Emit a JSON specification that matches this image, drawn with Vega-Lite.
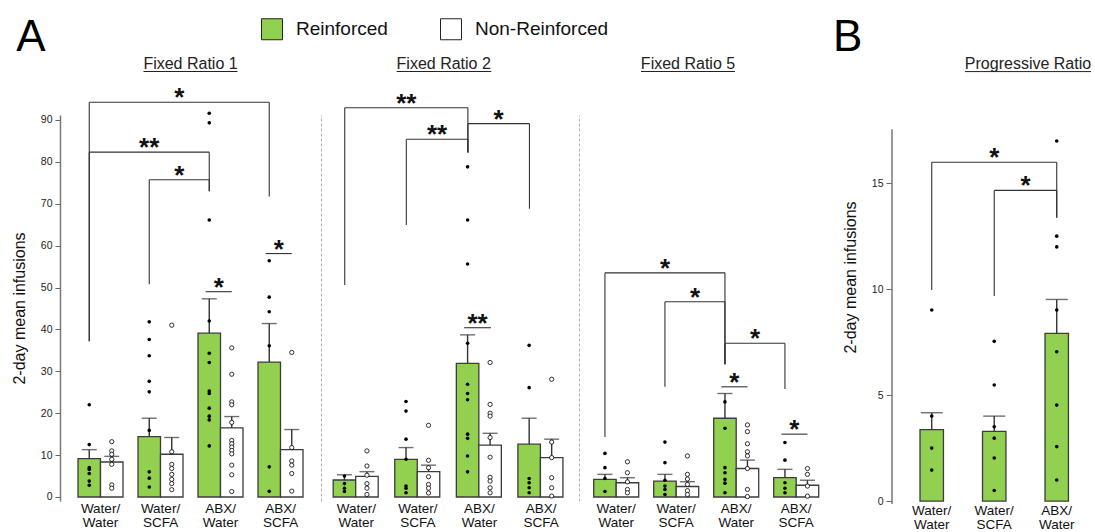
{
"$schema":"https://vega.github.io/schema/vega-lite/v6.json",
"background":"white",
"autosize":{"type":"pad"},
"padding":{"left":11,"top":15,"right":0,"bottom":0},
"config":{"font":"Liberation Sans","view":{"stroke":null},"axis":{"grid":false}},
"datasets":{
"bars":[
{"panel":"FR1","group":"Water/Water","type":"Reinforced","mean":9.15,"upper":11.3},
{"panel":"FR1","group":"Water/Water","type":"Non-Reinforced","mean":8.35,"upper":9.7},
{"panel":"FR1","group":"Water/SCFA","type":"Reinforced","mean":14.4,"upper":18.8},
{"panel":"FR1","group":"Water/SCFA","type":"Non-Reinforced","mean":10.2,"upper":14.2},
{"panel":"FR1","group":"ABX/Water","type":"Reinforced","mean":39.1,"upper":47.3},
{"panel":"FR1","group":"ABX/Water","type":"Non-Reinforced","mean":16.5,"upper":19.2},
{"panel":"FR1","group":"ABX/SCFA","type":"Reinforced","mean":32.2,"upper":41.4},
{"panel":"FR1","group":"ABX/SCFA","type":"Non-Reinforced","mean":11.3,"upper":16.1},
{"panel":"FR2","group":"Water/Water","type":"Reinforced","mean":4.06,"upper":5.3},
{"panel":"FR2","group":"Water/Water","type":"Non-Reinforced","mean":4.9,"upper":6.05},
{"panel":"FR2","group":"Water/SCFA","type":"Reinforced","mean":9.0,"upper":11.8},
{"panel":"FR2","group":"Water/SCFA","type":"Non-Reinforced","mean":6.05,"upper":7.6},
{"panel":"FR2","group":"ABX/Water","type":"Reinforced","mean":31.9,"upper":38.7},
{"panel":"FR2","group":"ABX/Water","type":"Non-Reinforced","mean":12.4,"upper":15.2},
{"panel":"FR2","group":"ABX/SCFA","type":"Reinforced","mean":12.6,"upper":18.8},
{"panel":"FR2","group":"ABX/SCFA","type":"Non-Reinforced","mean":9.4,"upper":13.8},
{"panel":"FR3","group":"Water/Water","type":"Reinforced","mean":4.2,"upper":5.4},
{"panel":"FR3","group":"Water/Water","type":"Non-Reinforced","mean":3.4,"upper":4.6},
{"panel":"FR3","group":"Water/SCFA","type":"Reinforced","mean":3.8,"upper":5.4},
{"panel":"FR3","group":"Water/SCFA","type":"Non-Reinforced","mean":2.5,"upper":3.65},
{"panel":"FR3","group":"ABX/Water","type":"Reinforced","mean":18.8,"upper":24.7},
{"panel":"FR3","group":"ABX/Water","type":"Non-Reinforced","mean":6.8,"upper":8.8},
{"panel":"FR3","group":"ABX/SCFA","type":"Reinforced","mean":4.6,"upper":6.6},
{"panel":"FR3","group":"ABX/SCFA","type":"Non-Reinforced","mean":2.8,"upper":4.0},
{"panel":"PR","group":"Water/Water","type":"Reinforced","mean":3.37,"upper":4.17},
{"panel":"PR","group":"Water/SCFA","type":"Reinforced","mean":3.29,"upper":4.01},
{"panel":"PR","group":"ABX/Water","type":"Reinforced","mean":7.92,"upper":9.52}
],
"dots":[
{"panel":"FR1","group":"Water/Water","type":"Reinforced","value":22.0},
{"panel":"FR1","group":"Water/Water","type":"Reinforced","value":12.5},
{"panel":"FR1","group":"Water/Water","type":"Reinforced","value":7.0},
{"panel":"FR1","group":"Water/Water","type":"Reinforced","value":6.6},
{"panel":"FR1","group":"Water/Water","type":"Reinforced","value":5.6},
{"panel":"FR1","group":"Water/Water","type":"Reinforced","value":3.8},
{"panel":"FR1","group":"Water/Water","type":"Reinforced","value":2.8},
{"panel":"FR1","group":"Water/Water","type":"Non-Reinforced","value":13.2},
{"panel":"FR1","group":"Water/Water","type":"Non-Reinforced","value":11.0},
{"panel":"FR1","group":"Water/Water","type":"Non-Reinforced","value":10.2},
{"panel":"FR1","group":"Water/Water","type":"Non-Reinforced","value":9.0},
{"panel":"FR1","group":"Water/Water","type":"Non-Reinforced","value":7.8},
{"panel":"FR1","group":"Water/Water","type":"Non-Reinforced","value":2.9},
{"panel":"FR1","group":"Water/Water","type":"Non-Reinforced","value":2.1},
{"panel":"FR1","group":"Water/SCFA","type":"Reinforced","value":41.8},
{"panel":"FR1","group":"Water/SCFA","type":"Reinforced","value":37.6},
{"panel":"FR1","group":"Water/SCFA","type":"Reinforced","value":33.7},
{"panel":"FR1","group":"Water/SCFA","type":"Reinforced","value":27.6},
{"panel":"FR1","group":"Water/SCFA","type":"Reinforced","value":25.1},
{"panel":"FR1","group":"Water/SCFA","type":"Reinforced","value":15.9},
{"panel":"FR1","group":"Water/SCFA","type":"Reinforced","value":6.0},
{"panel":"FR1","group":"Water/SCFA","type":"Reinforced","value":4.5},
{"panel":"FR1","group":"Water/SCFA","type":"Reinforced","value":2.4},
{"panel":"FR1","group":"Water/SCFA","type":"Non-Reinforced","value":41.0},
{"panel":"FR1","group":"Water/SCFA","type":"Non-Reinforced","value":10.8},
{"panel":"FR1","group":"Water/SCFA","type":"Non-Reinforced","value":7.8},
{"panel":"FR1","group":"Water/SCFA","type":"Non-Reinforced","value":6.8},
{"panel":"FR1","group":"Water/SCFA","type":"Non-Reinforced","value":5.4},
{"panel":"FR1","group":"Water/SCFA","type":"Non-Reinforced","value":4.2},
{"panel":"FR1","group":"Water/SCFA","type":"Non-Reinforced","value":3.2},
{"panel":"FR1","group":"Water/SCFA","type":"Non-Reinforced","value":1.75},
{"panel":"FR1","group":"ABX/Water","type":"Reinforced","value":91.6},
{"panel":"FR1","group":"ABX/Water","type":"Reinforced","value":89.3},
{"panel":"FR1","group":"ABX/Water","type":"Reinforced","value":66.1},
{"panel":"FR1","group":"ABX/Water","type":"Reinforced","value":42.0},
{"panel":"FR1","group":"ABX/Water","type":"Reinforced","value":34.3},
{"panel":"FR1","group":"ABX/Water","type":"Reinforced","value":32.1},
{"panel":"FR1","group":"ABX/Water","type":"Reinforced","value":25.3},
{"panel":"FR1","group":"ABX/Water","type":"Reinforced","value":24.7},
{"panel":"FR1","group":"ABX/Water","type":"Reinforced","value":21.2},
{"panel":"FR1","group":"ABX/Water","type":"Reinforced","value":19.3},
{"panel":"FR1","group":"ABX/Water","type":"Reinforced","value":18.4},
{"panel":"FR1","group":"ABX/Water","type":"Reinforced","value":12.2},
{"panel":"FR1","group":"ABX/Water","type":"Non-Reinforced","value":35.6},
{"panel":"FR1","group":"ABX/Water","type":"Non-Reinforced","value":29.3},
{"panel":"FR1","group":"ABX/Water","type":"Non-Reinforced","value":22.7},
{"panel":"FR1","group":"ABX/Water","type":"Non-Reinforced","value":22.0},
{"panel":"FR1","group":"ABX/Water","type":"Non-Reinforced","value":17.8},
{"panel":"FR1","group":"ABX/Water","type":"Non-Reinforced","value":13.5},
{"panel":"FR1","group":"ABX/Water","type":"Non-Reinforced","value":12.7},
{"panel":"FR1","group":"ABX/Water","type":"Non-Reinforced","value":11.9},
{"panel":"FR1","group":"ABX/Water","type":"Non-Reinforced","value":11.1},
{"panel":"FR1","group":"ABX/Water","type":"Non-Reinforced","value":10.3},
{"panel":"FR1","group":"ABX/Water","type":"Non-Reinforced","value":7.6},
{"panel":"FR1","group":"ABX/Water","type":"Non-Reinforced","value":5.3},
{"panel":"FR1","group":"ABX/Water","type":"Non-Reinforced","value":1.3},
{"panel":"FR1","group":"ABX/SCFA","type":"Reinforced","value":56.4},
{"panel":"FR1","group":"ABX/SCFA","type":"Reinforced","value":47.7},
{"panel":"FR1","group":"ABX/SCFA","type":"Reinforced","value":44.2},
{"panel":"FR1","group":"ABX/SCFA","type":"Reinforced","value":36.1},
{"panel":"FR1","group":"ABX/SCFA","type":"Reinforced","value":7.2},
{"panel":"FR1","group":"ABX/SCFA","type":"Reinforced","value":1.35},
{"panel":"FR1","group":"ABX/SCFA","type":"Non-Reinforced","value":34.5},
{"panel":"FR1","group":"ABX/SCFA","type":"Non-Reinforced","value":11.8},
{"panel":"FR1","group":"ABX/SCFA","type":"Non-Reinforced","value":8.6},
{"panel":"FR1","group":"ABX/SCFA","type":"Non-Reinforced","value":7.6},
{"panel":"FR1","group":"ABX/SCFA","type":"Non-Reinforced","value":5.6},
{"panel":"FR1","group":"ABX/SCFA","type":"Non-Reinforced","value":1.4},
{"panel":"FR2","group":"Water/Water","type":"Reinforced","value":5.0},
{"panel":"FR2","group":"Water/Water","type":"Reinforced","value":3.2},
{"panel":"FR2","group":"Water/Water","type":"Reinforced","value":2.1},
{"panel":"FR2","group":"Water/Water","type":"Reinforced","value":1.3},
{"panel":"FR2","group":"Water/Water","type":"Non-Reinforced","value":11.0},
{"panel":"FR2","group":"Water/Water","type":"Non-Reinforced","value":7.4},
{"panel":"FR2","group":"Water/Water","type":"Non-Reinforced","value":5.2},
{"panel":"FR2","group":"Water/Water","type":"Non-Reinforced","value":3.2},
{"panel":"FR2","group":"Water/Water","type":"Non-Reinforced","value":2.1},
{"panel":"FR2","group":"Water/Water","type":"Non-Reinforced","value":0.6},
{"panel":"FR2","group":"Water/SCFA","type":"Reinforced","value":22.8},
{"panel":"FR2","group":"Water/SCFA","type":"Reinforced","value":20.5},
{"panel":"FR2","group":"Water/SCFA","type":"Reinforced","value":13.8},
{"panel":"FR2","group":"Water/SCFA","type":"Reinforced","value":9.0},
{"panel":"FR2","group":"Water/SCFA","type":"Reinforced","value":2.6},
{"panel":"FR2","group":"Water/SCFA","type":"Reinforced","value":2.1},
{"panel":"FR2","group":"Water/SCFA","type":"Reinforced","value":1.0},
{"panel":"FR2","group":"Water/SCFA","type":"Non-Reinforced","value":17.1},
{"panel":"FR2","group":"Water/SCFA","type":"Non-Reinforced","value":8.75},
{"panel":"FR2","group":"Water/SCFA","type":"Non-Reinforced","value":7.0},
{"panel":"FR2","group":"Water/SCFA","type":"Non-Reinforced","value":4.85},
{"panel":"FR2","group":"Water/SCFA","type":"Non-Reinforced","value":3.0},
{"panel":"FR2","group":"Water/SCFA","type":"Non-Reinforced","value":2.1},
{"panel":"FR2","group":"Water/SCFA","type":"Non-Reinforced","value":0.95},
{"panel":"FR2","group":"ABX/Water","type":"Reinforced","value":78.8},
{"panel":"FR2","group":"ABX/Water","type":"Reinforced","value":66.1},
{"panel":"FR2","group":"ABX/Water","type":"Reinforced","value":55.6},
{"panel":"FR2","group":"ABX/Water","type":"Reinforced","value":36.7},
{"panel":"FR2","group":"ABX/Water","type":"Reinforced","value":26.9},
{"panel":"FR2","group":"ABX/Water","type":"Reinforced","value":24.7},
{"panel":"FR2","group":"ABX/Water","type":"Reinforced","value":23.2},
{"panel":"FR2","group":"ABX/Water","type":"Reinforced","value":15.0},
{"panel":"FR2","group":"ABX/Water","type":"Reinforced","value":14.0},
{"panel":"FR2","group":"ABX/Water","type":"Reinforced","value":9.8},
{"panel":"FR2","group":"ABX/Water","type":"Reinforced","value":6.0},
{"panel":"FR2","group":"ABX/Water","type":"Non-Reinforced","value":32.1},
{"panel":"FR2","group":"ABX/Water","type":"Non-Reinforced","value":22.1},
{"panel":"FR2","group":"ABX/Water","type":"Non-Reinforced","value":20.0},
{"panel":"FR2","group":"ABX/Water","type":"Non-Reinforced","value":19.3},
{"panel":"FR2","group":"ABX/Water","type":"Non-Reinforced","value":14.2},
{"panel":"FR2","group":"ABX/Water","type":"Non-Reinforced","value":9.5},
{"panel":"FR2","group":"ABX/Water","type":"Non-Reinforced","value":4.7},
{"panel":"FR2","group":"ABX/Water","type":"Non-Reinforced","value":3.8},
{"panel":"FR2","group":"ABX/Water","type":"Non-Reinforced","value":2.2},
{"panel":"FR2","group":"ABX/Water","type":"Non-Reinforced","value":1.0},
{"panel":"FR2","group":"ABX/SCFA","type":"Reinforced","value":36.2},
{"panel":"FR2","group":"ABX/SCFA","type":"Reinforced","value":26.1},
{"panel":"FR2","group":"ABX/SCFA","type":"Reinforced","value":4.4},
{"panel":"FR2","group":"ABX/SCFA","type":"Reinforced","value":3.4},
{"panel":"FR2","group":"ABX/SCFA","type":"Reinforced","value":2.2},
{"panel":"FR2","group":"ABX/SCFA","type":"Reinforced","value":1.0},
{"panel":"FR2","group":"ABX/SCFA","type":"Non-Reinforced","value":28.1},
{"panel":"FR2","group":"ABX/SCFA","type":"Non-Reinforced","value":13.1},
{"panel":"FR2","group":"ABX/SCFA","type":"Non-Reinforced","value":9.4},
{"panel":"FR2","group":"ABX/SCFA","type":"Non-Reinforced","value":4.6},
{"panel":"FR2","group":"ABX/SCFA","type":"Non-Reinforced","value":2.2},
{"panel":"FR2","group":"ABX/SCFA","type":"Non-Reinforced","value":0.24},
{"panel":"FR3","group":"Water/Water","type":"Reinforced","value":10.4},
{"panel":"FR3","group":"Water/Water","type":"Reinforced","value":7.0},
{"panel":"FR3","group":"Water/Water","type":"Reinforced","value":4.4},
{"panel":"FR3","group":"Water/Water","type":"Reinforced","value":1.3},
{"panel":"FR3","group":"Water/Water","type":"Non-Reinforced","value":8.4},
{"panel":"FR3","group":"Water/Water","type":"Non-Reinforced","value":5.8},
{"panel":"FR3","group":"Water/Water","type":"Non-Reinforced","value":3.6},
{"panel":"FR3","group":"Water/Water","type":"Non-Reinforced","value":1.8},
{"panel":"FR3","group":"Water/Water","type":"Non-Reinforced","value":1.0},
{"panel":"FR3","group":"Water/SCFA","type":"Reinforced","value":13.1},
{"panel":"FR3","group":"Water/SCFA","type":"Reinforced","value":8.2},
{"panel":"FR3","group":"Water/SCFA","type":"Reinforced","value":4.0},
{"panel":"FR3","group":"Water/SCFA","type":"Reinforced","value":2.6},
{"panel":"FR3","group":"Water/SCFA","type":"Reinforced","value":1.8},
{"panel":"FR3","group":"Water/SCFA","type":"Reinforced","value":0.6},
{"panel":"FR3","group":"Water/SCFA","type":"Non-Reinforced","value":9.8},
{"panel":"FR3","group":"Water/SCFA","type":"Non-Reinforced","value":5.4},
{"panel":"FR3","group":"Water/SCFA","type":"Non-Reinforced","value":4.3},
{"panel":"FR3","group":"Water/SCFA","type":"Non-Reinforced","value":3.0},
{"panel":"FR3","group":"Water/SCFA","type":"Non-Reinforced","value":1.5},
{"panel":"FR3","group":"Water/SCFA","type":"Non-Reinforced","value":0.6},
{"panel":"FR3","group":"ABX/Water","type":"Reinforced","value":22.7},
{"panel":"FR3","group":"ABX/Water","type":"Reinforced","value":16.4},
{"panel":"FR3","group":"ABX/Water","type":"Reinforced","value":7.0},
{"panel":"FR3","group":"ABX/Water","type":"Reinforced","value":5.8},
{"panel":"FR3","group":"ABX/Water","type":"Reinforced","value":4.2},
{"panel":"FR3","group":"ABX/Water","type":"Reinforced","value":3.3},
{"panel":"FR3","group":"ABX/Water","type":"Reinforced","value":1.0},
{"panel":"FR3","group":"ABX/Water","type":"Non-Reinforced","value":17.2},
{"panel":"FR3","group":"ABX/Water","type":"Non-Reinforced","value":15.6},
{"panel":"FR3","group":"ABX/Water","type":"Non-Reinforced","value":12.7},
{"panel":"FR3","group":"ABX/Water","type":"Non-Reinforced","value":10.8},
{"panel":"FR3","group":"ABX/Water","type":"Non-Reinforced","value":9.8},
{"panel":"FR3","group":"ABX/Water","type":"Non-Reinforced","value":6.8},
{"panel":"FR3","group":"ABX/Water","type":"Non-Reinforced","value":1.8},
{"panel":"FR3","group":"ABX/Water","type":"Non-Reinforced","value":0.1},
{"panel":"FR3","group":"ABX/SCFA","type":"Reinforced","value":13.0},
{"panel":"FR3","group":"ABX/SCFA","type":"Reinforced","value":8.8},
{"panel":"FR3","group":"ABX/SCFA","type":"Reinforced","value":3.4},
{"panel":"FR3","group":"ABX/SCFA","type":"Reinforced","value":2.1},
{"panel":"FR3","group":"ABX/SCFA","type":"Reinforced","value":1.0},
{"panel":"FR3","group":"ABX/SCFA","type":"Non-Reinforced","value":6.8},
{"panel":"FR3","group":"ABX/SCFA","type":"Non-Reinforced","value":5.4},
{"panel":"FR3","group":"ABX/SCFA","type":"Non-Reinforced","value":2.6},
{"panel":"FR3","group":"ABX/SCFA","type":"Non-Reinforced","value":0.2},
{"panel":"PR","group":"Water/Water","type":"Reinforced","value":9.02},
{"panel":"PR","group":"Water/Water","type":"Reinforced","value":4.01},
{"panel":"PR","group":"Water/Water","type":"Reinforced","value":2.5},
{"panel":"PR","group":"Water/Water","type":"Reinforced","value":1.46},
{"panel":"PR","group":"Water/SCFA","type":"Reinforced","value":7.54},
{"panel":"PR","group":"Water/SCFA","type":"Reinforced","value":5.48},
{"panel":"PR","group":"Water/SCFA","type":"Reinforced","value":3.51},
{"panel":"PR","group":"Water/SCFA","type":"Reinforced","value":2.97},
{"panel":"PR","group":"Water/SCFA","type":"Reinforced","value":2.03},
{"panel":"PR","group":"Water/SCFA","type":"Reinforced","value":0.5},
{"panel":"PR","group":"ABX/Water","type":"Reinforced","value":17.0},
{"panel":"PR","group":"ABX/Water","type":"Reinforced","value":12.51},
{"panel":"PR","group":"ABX/Water","type":"Reinforced","value":12.0},
{"panel":"PR","group":"ABX/Water","type":"Reinforced","value":9.02},
{"panel":"PR","group":"ABX/Water","type":"Reinforced","value":7.05},
{"panel":"PR","group":"ABX/Water","type":"Reinforced","value":4.53},
{"panel":"PR","group":"ABX/Water","type":"Reinforced","value":2.57},
{"panel":"PR","group":"ABX/Water","type":"Reinforced","value":0.99}
],
"brackets":[
{"panel":"FR1","from":"Water/Water","to":"ABX/SCFA","y":94.2,"yL":37.2,"yR":71.7,"label":"*","span":3},
{"panel":"FR1","from":"Water/Water","to":"ABX/Water","y":82.3,"yL":37.2,"yR":73.0,"label":"**","span":2},
{"panel":"FR1","from":"Water/SCFA","to":"ABX/Water","y":75.7,"yL":50.8,"yR":73.0,"label":"*","span":1},
{"panel":"FR1","from":"ABX/Water","to":"ABX/Water","y":49.0,"label":"*","span":0},
{"panel":"FR1","from":"ABX/SCFA","to":"ABX/SCFA","y":58.1,"label":"*","span":0},
{"panel":"FR2","from":"Water/Water","to":"ABX/Water","y":92.9,"yL":50.6,"yR":82.2,"label":"**","span":2},
{"panel":"FR2","from":"Water/SCFA","to":"ABX/Water","y":85.4,"yL":64.9,"yR":82.2,"label":"**","span":1},
{"panel":"FR2","from":"ABX/Water","to":"ABX/SCFA","y":89.1,"yL":82.2,"yR":68.8,"label":"*","span":1},
{"panel":"FR2","from":"ABX/Water","to":"ABX/Water","y":40.4,"label":"**","span":0},
{"panel":"FR3","from":"Water/Water","to":"ABX/Water","y":53.5,"yL":14.3,"yR":31.7,"label":"*","span":2},
{"panel":"FR3","from":"Water/SCFA","to":"ABX/Water","y":46.6,"yL":26.3,"yR":31.7,"label":"*","span":1},
{"panel":"FR3","from":"ABX/Water","to":"ABX/SCFA","y":36.7,"yL":31.7,"yR":25.8,"label":"*","span":1},
{"panel":"FR3","from":"ABX/Water","to":"ABX/Water","y":26.3,"label":"*","span":0},
{"panel":"FR3","from":"ABX/SCFA","to":"ABX/SCFA","y":15.0,"label":"*","span":0},
{"panel":"PR","from":"Water/Water","to":"ABX/Water","y":16.0,"yL":9.96,"yR":13.38,"label":"*","span":2},
{"panel":"PR","from":"Water/SCFA","to":"ABX/Water","y":14.67,"yL":9.68,"yR":13.38,"label":"*","span":1}
],
"titles":[
{"panel":"FR1","title":"Fixed Ratio 1","letter":"A"},
{"panel":"FR2","title":"Fixed Ratio 2","letter":""},
{"panel":"FR3","title":"Fixed Ratio 5","letter":""},
{"panel":"PR","title":"Progressive Ratio","letter":"B"}
]
},
"spacing":0,
"bounds":"flush",
"hconcat":[
{
"width":261,"height":386,
"layer":[
{"data":{"name":"bars"},"transform":[{"filter":"datum.panel === 'FR1'"}],"mark":{"type":"bar","stroke":"#3c3c3c","strokeWidth":1.3},
"encoding":{
"x":{"field":"group","type":"nominal","sort":["Water/Water","Water/SCFA","ABX/Water","ABX/SCFA"],"scale":{"domain":["Water/Water","Water/SCFA","ABX/Water","ABX/SCFA"],"paddingInner":0.25,"paddingOuter":0.3,"align":0.5},"axis":{"title":null,"domain":false,"ticks":false,"labelAngle":0,"labelFontSize":13.5,"labelColor":"#111","labelPadding":0,"labelLineHeight":14.5,"labelOverlap":false,"labelExpr":"[split(datum.value, '/')[0] + '/', split(datum.value, '/')[1]]"}},
"xOffset":{"field":"type","type":"nominal","sort":["Reinforced","Non-Reinforced"],"scale":{"domain":["Reinforced","Non-Reinforced"],"paddingInner":0,"paddingOuter":0}},
"y":{"field":"mean","type":"quantitative","scale":{"domain":[-0.955,91.17],"nice":false,"zero":false},"axis":{"title":"2-day mean infusions","values":[0,10,20,30,40,50,60,70,80,90],"labelFontSize":10.5,"labelColor":"#222","labelPadding":3,"tickSize":5,"tickColor":"#666","domainColor":"#777","domainWidth":1.5,"titleFontSize":16,"titleFontWeight":"normal","titleColor":"#111","titlePadding":13}},
"y2":{"datum":0},
"color":{"field":"type","type":"nominal","scale":{"domain":["Reinforced","Non-Reinforced"],"range":["#92D050","#FFFFFF"]},"legend":{"orient":"none","legendX":201,"legendY":-97,"direction":"horizontal","title":null,"symbolType":"square","symbolSize":441,"symbolStrokeColor":"#222","symbolStrokeWidth":1,"labelFontSize":19,"labelColor":"#111","labelOffset":13,"columnPadding":50,"padding":0}}
}},
{"data":{"name":"bars"},"transform":[{"filter":"datum.panel === 'FR1'"}],"mark":{"type":"rule","color":"#333","strokeWidth":1.4},
"encoding":{"x":{"field":"group","type":"nominal"},"xOffset":{"field":"type","type":"nominal"},"y":{"field":"mean","type":"quantitative"},"y2":{"field":"upper"}}},
{"data":{"name":"bars"},"transform":[{"filter":"datum.panel === 'FR1'"}],"mark":{"type":"tick","color":"#333","thickness":1.4,"size":15},
"encoding":{"x":{"field":"group","type":"nominal"},"xOffset":{"field":"type","type":"nominal"},"y":{"field":"upper","type":"quantitative"}}},
{"data":{"name":"dots"},"transform":[{"filter":"datum.panel === 'FR1' && datum.type === 'Reinforced'"}],"mark":{"type":"point","shape":"circle","filled":true,"color":"#000","size":13,"opacity":1},
"encoding":{"x":{"field":"group","type":"nominal"},"xOffset":{"field":"type","type":"nominal"},"y":{"field":"value","type":"quantitative"}}},
{"data":{"name":"dots"},"transform":[{"filter":"datum.panel === 'FR1' && datum.type === 'Non-Reinforced'"}],"mark":{"type":"point","shape":"circle","filled":true,"fill":"#fff","stroke":"#000","strokeWidth":0.8,"size":18,"opacity":1},
"encoding":{"x":{"field":"group","type":"nominal"},"xOffset":{"field":"type","type":"nominal"},"y":{"field":"value","type":"quantitative"}}},
{"data":{"name":"brackets"},"transform":[{"filter":"datum.panel === 'FR1' && datum.span > 0"}],"mark":{"type":"rule","color":"#333","strokeWidth":1.1},
"encoding":{"x":{"field":"from","type":"nominal","bandPosition":0.25},"x2":{"field":"to","bandPosition":0.25},"y":{"field":"y","type":"quantitative"}}},
{"data":{"name":"brackets"},"transform":[{"filter":"datum.panel === 'FR1' && datum.span === 0"}],"mark":{"type":"rule","color":"#333","strokeWidth":1.1},
"encoding":{"x":{"field":"from","type":"nominal","bandPosition":0.17},"x2":{"field":"to","bandPosition":0.75},"y":{"field":"y","type":"quantitative"}}},
{"data":{"name":"brackets"},"transform":[{"filter":"datum.panel === 'FR1' && datum.span > 0"}],"mark":{"type":"rule","color":"#333","strokeWidth":1.1},
"encoding":{"x":{"field":"from","type":"nominal","bandPosition":0.25},"y":{"field":"y","type":"quantitative"},"y2":{"field":"yL"}}},
{"data":{"name":"brackets"},"transform":[{"filter":"datum.panel === 'FR1' && datum.span > 0"}],"mark":{"type":"rule","color":"#333","strokeWidth":1.1},
"encoding":{"x":{"field":"to","type":"nominal","bandPosition":0.25},"y":{"field":"y","type":"quantitative"},"y2":{"field":"yR"}}},
{"data":{"name":"brackets"},"transform":[{"filter":"datum.panel === 'FR1' && datum.span === 0"}],"mark":{"type":"text","fontSize":26,"fontWeight":"bold","baseline":"alphabetic","align":"center","dy":4,"color":"#111"},
"encoding":{"x":{"field":"from","type":"nominal","bandPosition":0.46},"y":{"field":"y","type":"quantitative"},"text":{"field":"label"}}},
{"data":{"name":"brackets"},"transform":[{"filter":"datum.panel === 'FR1' && datum.span === 1"}],"mark":{"type":"text","fontSize":26,"fontWeight":"bold","baseline":"alphabetic","align":"center","dy":4,"color":"#111"},
"encoding":{"x":{"field":"from","type":"nominal","bandPosition":0.9167},"y":{"field":"y","type":"quantitative"},"text":{"field":"label"}}},
{"data":{"name":"brackets"},"transform":[{"filter":"datum.panel === 'FR1' && datum.span === 2"}],"mark":{"type":"text","fontSize":26,"fontWeight":"bold","baseline":"alphabetic","align":"center","dy":4,"color":"#111"},
"encoding":{"x":{"field":"from","type":"nominal","bandPosition":1.5833},"y":{"field":"y","type":"quantitative"},"text":{"field":"label"}}},
{"data":{"name":"brackets"},"transform":[{"filter":"datum.panel === 'FR1' && datum.span === 3"}],"mark":{"type":"text","fontSize":26,"fontWeight":"bold","baseline":"alphabetic","align":"center","dy":4,"color":"#111"},
"encoding":{"x":{"field":"from","type":"nominal","bandPosition":2.25},"y":{"field":"y","type":"quantitative"},"text":{"field":"label"}}},
{"data":{"name":"titles"},"transform":[{"filter":"datum.panel === 'FR1'"}],"mark":{"type":"text","fontSize":16,"baseline":"alphabetic","align":"center","color":"#222"},
"encoding":{"x":{"datum":"Water/SCFA","type":"nominal","bandPosition":1.1667},"y":{"datum":102.15,"type":"quantitative"},"text":{"field":"title"}}},
{"data":{"name":"titles"},"transform":[{"filter":"datum.panel === 'FR1'"}],"mark":{"type":"rule","color":"#222","strokeWidth":1},
"encoding":{"x":{"datum":"Water/SCFA","type":"nominal","bandPosition":0.122},"x2":{"datum":"Water/SCFA","bandPosition":2.211},"y":{"datum":101.55,"type":"quantitative"}}},
{"data":{"name":"titles"},"transform":[{"filter":"datum.panel === 'FR1'"}],"mark":{"type":"text","fontSize":44,"baseline":"alphabetic","align":"left","color":"#000"},
"encoding":{"x":{"datum":"Water/Water","type":"nominal","bandPosition":-1.371},"y":{"datum":106.4,"type":"quantitative"},"text":{"field":"letter"}}}
]
},
{
"width":258,"height":386,
"layer":[
{"data":{"name":"bars"},"transform":[{"filter":"datum.panel === 'FR2'"}],"mark":{"type":"bar","stroke":"#3c3c3c","strokeWidth":1.3},
"encoding":{
"x":{"field":"group","type":"nominal","sort":["Water/Water","Water/SCFA","ABX/Water","ABX/SCFA"],"scale":{"domain":["Water/Water","Water/SCFA","ABX/Water","ABX/SCFA"],"paddingInner":0.25,"paddingOuter":0.22,"align":0.45},"axis":{"title":null,"domain":false,"ticks":false,"labelAngle":0,"labelFontSize":13.5,"labelColor":"#111","labelPadding":0,"labelLineHeight":14.5,"labelOverlap":false,"labelExpr":"[split(datum.value, '/')[0] + '/', split(datum.value, '/')[1]]"}},
"xOffset":{"field":"type","type":"nominal","sort":["Reinforced","Non-Reinforced"],"scale":{"domain":["Reinforced","Non-Reinforced"],"paddingInner":0,"paddingOuter":0}},
"y":{"field":"mean","type":"quantitative","scale":{"domain":[-0.955,91.17],"nice":false,"zero":false},"axis":{"title":null,"labels":false,"ticks":false,"domainColor":"#b0b0b0","domainWidth":1,"domainDash":[3,2]}},
"y2":{"datum":0},
"color":{"field":"type","type":"nominal","scale":{"domain":["Reinforced","Non-Reinforced"],"range":["#92D050","#FFFFFF"]},"legend":{"orient":"none","legendX":201,"legendY":-97,"direction":"horizontal","title":null,"symbolType":"square","symbolSize":441,"symbolStrokeColor":"#222","symbolStrokeWidth":1,"labelFontSize":19,"labelColor":"#111","labelOffset":13,"columnPadding":50,"padding":0}}
}},
{"data":{"name":"bars"},"transform":[{"filter":"datum.panel === 'FR2'"}],"mark":{"type":"rule","color":"#333","strokeWidth":1.4},
"encoding":{"x":{"field":"group","type":"nominal"},"xOffset":{"field":"type","type":"nominal"},"y":{"field":"mean","type":"quantitative"},"y2":{"field":"upper"}}},
{"data":{"name":"bars"},"transform":[{"filter":"datum.panel === 'FR2'"}],"mark":{"type":"tick","color":"#333","thickness":1.4,"size":15},
"encoding":{"x":{"field":"group","type":"nominal"},"xOffset":{"field":"type","type":"nominal"},"y":{"field":"upper","type":"quantitative"}}},
{"data":{"name":"dots"},"transform":[{"filter":"datum.panel === 'FR2' && datum.type === 'Reinforced'"}],"mark":{"type":"point","shape":"circle","filled":true,"color":"#000","size":13,"opacity":1},
"encoding":{"x":{"field":"group","type":"nominal"},"xOffset":{"field":"type","type":"nominal"},"y":{"field":"value","type":"quantitative"}}},
{"data":{"name":"dots"},"transform":[{"filter":"datum.panel === 'FR2' && datum.type === 'Non-Reinforced'"}],"mark":{"type":"point","shape":"circle","filled":true,"fill":"#fff","stroke":"#000","strokeWidth":0.8,"size":18,"opacity":1},
"encoding":{"x":{"field":"group","type":"nominal"},"xOffset":{"field":"type","type":"nominal"},"y":{"field":"value","type":"quantitative"}}},
{"data":{"name":"brackets"},"transform":[{"filter":"datum.panel === 'FR2' && datum.span > 0"}],"mark":{"type":"rule","color":"#333","strokeWidth":1.1},
"encoding":{"x":{"field":"from","type":"nominal","bandPosition":0.25},"x2":{"field":"to","bandPosition":0.25},"y":{"field":"y","type":"quantitative"}}},
{"data":{"name":"brackets"},"transform":[{"filter":"datum.panel === 'FR2' && datum.span === 0"}],"mark":{"type":"rule","color":"#333","strokeWidth":1.1},
"encoding":{"x":{"field":"from","type":"nominal","bandPosition":0.17},"x2":{"field":"to","bandPosition":0.75},"y":{"field":"y","type":"quantitative"}}},
{"data":{"name":"brackets"},"transform":[{"filter":"datum.panel === 'FR2' && datum.span > 0"}],"mark":{"type":"rule","color":"#333","strokeWidth":1.1},
"encoding":{"x":{"field":"from","type":"nominal","bandPosition":0.25},"y":{"field":"y","type":"quantitative"},"y2":{"field":"yL"}}},
{"data":{"name":"brackets"},"transform":[{"filter":"datum.panel === 'FR2' && datum.span > 0"}],"mark":{"type":"rule","color":"#333","strokeWidth":1.1},
"encoding":{"x":{"field":"to","type":"nominal","bandPosition":0.25},"y":{"field":"y","type":"quantitative"},"y2":{"field":"yR"}}},
{"data":{"name":"brackets"},"transform":[{"filter":"datum.panel === 'FR2' && datum.span === 0"}],"mark":{"type":"text","fontSize":26,"fontWeight":"bold","baseline":"alphabetic","align":"center","dy":4,"color":"#111"},
"encoding":{"x":{"field":"from","type":"nominal","bandPosition":0.46},"y":{"field":"y","type":"quantitative"},"text":{"field":"label"}}},
{"data":{"name":"brackets"},"transform":[{"filter":"datum.panel === 'FR2' && datum.span === 1"}],"mark":{"type":"text","fontSize":26,"fontWeight":"bold","baseline":"alphabetic","align":"center","dy":4,"color":"#111"},
"encoding":{"x":{"field":"from","type":"nominal","bandPosition":0.9167},"y":{"field":"y","type":"quantitative"},"text":{"field":"label"}}},
{"data":{"name":"brackets"},"transform":[{"filter":"datum.panel === 'FR2' && datum.span === 2"}],"mark":{"type":"text","fontSize":26,"fontWeight":"bold","baseline":"alphabetic","align":"center","dy":4,"color":"#111"},
"encoding":{"x":{"field":"from","type":"nominal","bandPosition":1.5833},"y":{"field":"y","type":"quantitative"},"text":{"field":"label"}}},
{"data":{"name":"titles"},"transform":[{"filter":"datum.panel === 'FR2'"}],"mark":{"type":"text","fontSize":16,"baseline":"alphabetic","align":"center","color":"#222"},
"encoding":{"x":{"datum":"Water/SCFA","type":"nominal","bandPosition":1.06},"y":{"datum":102.15,"type":"quantitative"},"text":{"field":"title"}}},
{"data":{"name":"titles"},"transform":[{"filter":"datum.panel === 'FR2'"}],"mark":{"type":"rule","color":"#222","strokeWidth":1},
"encoding":{"x":{"datum":"Water/SCFA","type":"nominal","bandPosition":0.04},"x2":{"datum":"Water/SCFA","bandPosition":2.09},"y":{"datum":101.55,"type":"quantitative"}}}
]
},
{
"width":313,"height":386,
"layer":[
{"data":{"name":"bars"},"transform":[{"filter":"datum.panel === 'FR3'"}],"mark":{"type":"bar","stroke":"#3c3c3c","strokeWidth":1.3},
"encoding":{
"x":{"field":"group","type":"nominal","sort":["Water/Water","Water/SCFA","ABX/Water","ABX/SCFA"],"scale":{"domain":["Water/Water","Water/SCFA","ABX/Water","ABX/SCFA"],"paddingInner":0.25,"paddingOuter":0.7333,"align":0.167},"axis":{"title":null,"domain":false,"ticks":false,"labelAngle":0,"labelFontSize":13.5,"labelColor":"#111","labelPadding":0,"labelLineHeight":14.5,"labelOverlap":false,"labelExpr":"[split(datum.value, '/')[0] + '/', split(datum.value, '/')[1]]"}},
"xOffset":{"field":"type","type":"nominal","sort":["Reinforced","Non-Reinforced"],"scale":{"domain":["Reinforced","Non-Reinforced"],"paddingInner":0,"paddingOuter":0}},
"y":{"field":"mean","type":"quantitative","scale":{"domain":[-0.955,91.17],"nice":false,"zero":false},"axis":{"title":null,"labels":false,"ticks":false,"domainColor":"#b0b0b0","domainWidth":1,"domainDash":[3,2]}},
"y2":{"datum":0},
"color":{"field":"type","type":"nominal","scale":{"domain":["Reinforced","Non-Reinforced"],"range":["#92D050","#FFFFFF"]},"legend":{"orient":"none","legendX":201,"legendY":-97,"direction":"horizontal","title":null,"symbolType":"square","symbolSize":441,"symbolStrokeColor":"#222","symbolStrokeWidth":1,"labelFontSize":19,"labelColor":"#111","labelOffset":13,"columnPadding":50,"padding":0}}
}},
{"data":{"name":"bars"},"transform":[{"filter":"datum.panel === 'FR3'"}],"mark":{"type":"rule","color":"#333","strokeWidth":1.4},
"encoding":{"x":{"field":"group","type":"nominal"},"xOffset":{"field":"type","type":"nominal"},"y":{"field":"mean","type":"quantitative"},"y2":{"field":"upper"}}},
{"data":{"name":"bars"},"transform":[{"filter":"datum.panel === 'FR3'"}],"mark":{"type":"tick","color":"#333","thickness":1.4,"size":15},
"encoding":{"x":{"field":"group","type":"nominal"},"xOffset":{"field":"type","type":"nominal"},"y":{"field":"upper","type":"quantitative"}}},
{"data":{"name":"dots"},"transform":[{"filter":"datum.panel === 'FR3' && datum.type === 'Reinforced'"}],"mark":{"type":"point","shape":"circle","filled":true,"color":"#000","size":13,"opacity":1},
"encoding":{"x":{"field":"group","type":"nominal"},"xOffset":{"field":"type","type":"nominal"},"y":{"field":"value","type":"quantitative"}}},
{"data":{"name":"dots"},"transform":[{"filter":"datum.panel === 'FR3' && datum.type === 'Non-Reinforced'"}],"mark":{"type":"point","shape":"circle","filled":true,"fill":"#fff","stroke":"#000","strokeWidth":0.8,"size":18,"opacity":1},
"encoding":{"x":{"field":"group","type":"nominal"},"xOffset":{"field":"type","type":"nominal"},"y":{"field":"value","type":"quantitative"}}},
{"data":{"name":"brackets"},"transform":[{"filter":"datum.panel === 'FR3' && datum.span > 0"}],"mark":{"type":"rule","color":"#333","strokeWidth":1.1},
"encoding":{"x":{"field":"from","type":"nominal","bandPosition":0.25},"x2":{"field":"to","bandPosition":0.25},"y":{"field":"y","type":"quantitative"}}},
{"data":{"name":"brackets"},"transform":[{"filter":"datum.panel === 'FR3' && datum.span === 0"}],"mark":{"type":"rule","color":"#333","strokeWidth":1.1},
"encoding":{"x":{"field":"from","type":"nominal","bandPosition":0.17},"x2":{"field":"to","bandPosition":0.75},"y":{"field":"y","type":"quantitative"}}},
{"data":{"name":"brackets"},"transform":[{"filter":"datum.panel === 'FR3' && datum.span > 0"}],"mark":{"type":"rule","color":"#333","strokeWidth":1.1},
"encoding":{"x":{"field":"from","type":"nominal","bandPosition":0.25},"y":{"field":"y","type":"quantitative"},"y2":{"field":"yL"}}},
{"data":{"name":"brackets"},"transform":[{"filter":"datum.panel === 'FR3' && datum.span > 0"}],"mark":{"type":"rule","color":"#333","strokeWidth":1.1},
"encoding":{"x":{"field":"to","type":"nominal","bandPosition":0.25},"y":{"field":"y","type":"quantitative"},"y2":{"field":"yR"}}},
{"data":{"name":"brackets"},"transform":[{"filter":"datum.panel === 'FR3' && datum.span === 0"}],"mark":{"type":"text","fontSize":26,"fontWeight":"bold","baseline":"alphabetic","align":"center","dy":4,"color":"#111"},
"encoding":{"x":{"field":"from","type":"nominal","bandPosition":0.46},"y":{"field":"y","type":"quantitative"},"text":{"field":"label"}}},
{"data":{"name":"brackets"},"transform":[{"filter":"datum.panel === 'FR3' && datum.span === 1"}],"mark":{"type":"text","fontSize":26,"fontWeight":"bold","baseline":"alphabetic","align":"center","dy":4,"color":"#111"},
"encoding":{"x":{"field":"from","type":"nominal","bandPosition":0.9167},"y":{"field":"y","type":"quantitative"},"text":{"field":"label"}}},
{"data":{"name":"brackets"},"transform":[{"filter":"datum.panel === 'FR3' && datum.span === 2"}],"mark":{"type":"text","fontSize":26,"fontWeight":"bold","baseline":"alphabetic","align":"center","dy":4,"color":"#111"},
"encoding":{"x":{"field":"from","type":"nominal","bandPosition":1.5833},"y":{"field":"y","type":"quantitative"},"text":{"field":"label"}}},
{"data":{"name":"titles"},"transform":[{"filter":"datum.panel === 'FR3'"}],"mark":{"type":"text","fontSize":16,"baseline":"alphabetic","align":"center","color":"#222"},
"encoding":{"x":{"datum":"Water/SCFA","type":"nominal","bandPosition":0.762},"y":{"datum":102.15,"type":"quantitative"},"text":{"field":"title"}}},
{"data":{"name":"titles"},"transform":[{"filter":"datum.panel === 'FR3'"}],"mark":{"type":"rule","color":"#222","strokeWidth":1},
"encoding":{"x":{"datum":"Water/SCFA","type":"nominal","bandPosition":-0.282},"x2":{"datum":"Water/SCFA","bandPosition":1.807},"y":{"datum":101.55,"type":"quantitative"}}}
]
},
{
"width":190,"height":389,
"layer":[
{"data":{"name":"bars"},"transform":[{"filter":"datum.panel === 'PR'"}],"mark":{"type":"bar","stroke":"#3c3c3c","strokeWidth":1.3},
"encoding":{
"x":{"field":"group","type":"nominal","sort":["Water/Water","Water/SCFA","ABX/Water"],"scale":{"domain":["Water/Water","Water/SCFA","ABX/Water"],"paddingInner":0.625,"paddingOuter":0.3325,"align":0.674},"axis":{"title":null,"domain":false,"ticks":false,"labelAngle":0,"labelFontSize":13.5,"labelColor":"#111","labelPadding":-1,"labelLineHeight":14.5,"labelOverlap":false,"labelExpr":"[split(datum.value, '/')[0] + '/', split(datum.value, '/')[1]]"}},
"y":{"field":"mean","type":"quantitative","scale":{"domain":[-0.14,18.23],"nice":false,"zero":false},"axis":{"title":"2-day mean infusions","values":[0,5,10,15],"domain":false,"labelFontSize":10.5,"labelColor":"#222","labelPadding":3,"tickSize":6,"tickColor":"#666","titleFontSize":16,"titleFontWeight":"normal","titleColor":"#111","titlePadding":13,"titleY":162}},
"y2":{"datum":0},
"color":{"field":"type","type":"nominal","scale":{"domain":["Reinforced","Non-Reinforced"],"range":["#92D050","#FFFFFF"]},"legend":{"orient":"none","legendX":201,"legendY":-97,"direction":"horizontal","title":null,"symbolType":"square","symbolSize":441,"symbolStrokeColor":"#222","symbolStrokeWidth":1,"labelFontSize":19,"labelColor":"#111","labelOffset":13,"columnPadding":50,"padding":0}}
}},
{"data":{"name":"bars"},"transform":[{"filter":"datum.panel === 'PR'"}],"mark":{"type":"rule","color":"#333","strokeWidth":1.4},
"encoding":{"x":{"field":"group","type":"nominal"},"y":{"field":"mean","type":"quantitative"},"y2":{"field":"upper"}}},
{"data":{"name":"bars"},"transform":[{"filter":"datum.panel === 'PR'"}],"mark":{"type":"tick","color":"#333","thickness":1.4,"size":22},
"encoding":{"x":{"field":"group","type":"nominal"},"y":{"field":"upper","type":"quantitative"}}},
{"data":{"name":"dots"},"transform":[{"filter":"datum.panel === 'PR'"}],"mark":{"type":"point","shape":"circle","filled":true,"color":"#000","size":13,"opacity":1},
"encoding":{"x":{"field":"group","type":"nominal"},"y":{"field":"value","type":"quantitative"}}},
{"data":{"name":"titles"},"transform":[{"filter":"datum.panel === 'PR'"}],"mark":{"type":"rule","color":"#777","strokeWidth":1.5},
"encoding":{"x":{"datum":"Water/Water","type":"nominal","bandPosition":-1.195},"y":{"datum":-0.14,"type":"quantitative"},"y2":{"datum":17.56}}},
{"data":{"name":"brackets"},"transform":[{"filter":"datum.panel === 'PR'"}],"mark":{"type":"rule","color":"#333","strokeWidth":1.1},
"encoding":{"x":{"field":"from","type":"nominal","bandPosition":0.5},"x2":{"field":"to","bandPosition":0.5},"y":{"field":"y","type":"quantitative"}}},
{"data":{"name":"brackets"},"transform":[{"filter":"datum.panel === 'PR'"}],"mark":{"type":"rule","color":"#333","strokeWidth":1.1},
"encoding":{"x":{"field":"from","type":"nominal","bandPosition":0.5},"y":{"field":"y","type":"quantitative"},"y2":{"field":"yL"}}},
{"data":{"name":"brackets"},"transform":[{"filter":"datum.panel === 'PR'"}],"mark":{"type":"rule","color":"#333","strokeWidth":1.1},
"encoding":{"x":{"field":"to","type":"nominal","bandPosition":0.5},"y":{"field":"y","type":"quantitative"},"y2":{"field":"yR"}}},
{"data":{"name":"brackets"},"transform":[{"filter":"datum.panel === 'PR' && datum.span === 1"}],"mark":{"type":"text","fontSize":26,"fontWeight":"bold","baseline":"alphabetic","align":"center","dy":4,"color":"#111"},
"encoding":{"x":{"field":"from","type":"nominal","bandPosition":1.833},"y":{"field":"y","type":"quantitative"},"text":{"field":"label"}}},
{"data":{"name":"brackets"},"transform":[{"filter":"datum.panel === 'PR' && datum.span === 2"}],"mark":{"type":"text","fontSize":26,"fontWeight":"bold","baseline":"alphabetic","align":"center","dy":4,"color":"#111"},
"encoding":{"x":{"field":"from","type":"nominal","bandPosition":3.167},"y":{"field":"y","type":"quantitative"},"text":{"field":"label"}}},
{"data":{"name":"titles"},"transform":[{"filter":"datum.panel === 'PR'"}],"mark":{"type":"text","fontSize":16,"baseline":"alphabetic","align":"center","color":"#222"},
"encoding":{"x":{"datum":"Water/SCFA","type":"nominal","bandPosition":1.941},"y":{"datum":20.4,"type":"quantitative"},"text":{"field":"title"}}},
{"data":{"name":"titles"},"transform":[{"filter":"datum.panel === 'PR'"}],"mark":{"type":"rule","color":"#222","strokeWidth":1},
"encoding":{"x":{"datum":"Water/SCFA","type":"nominal","bandPosition":-0.747},"x2":{"datum":"Water/SCFA","bandPosition":4.629},"y":{"datum":20.28,"type":"quantitative"}}},
{"data":{"name":"titles"},"transform":[{"filter":"datum.panel === 'PR'"}],"mark":{"type":"text","fontSize":44,"baseline":"alphabetic","align":"left","color":"#000"},
"encoding":{"x":{"datum":"Water/Water","type":"nominal","bandPosition":-3.71},"y":{"datum":21.27,"type":"quantitative"},"text":{"field":"letter"}}}
]
}
]
}
